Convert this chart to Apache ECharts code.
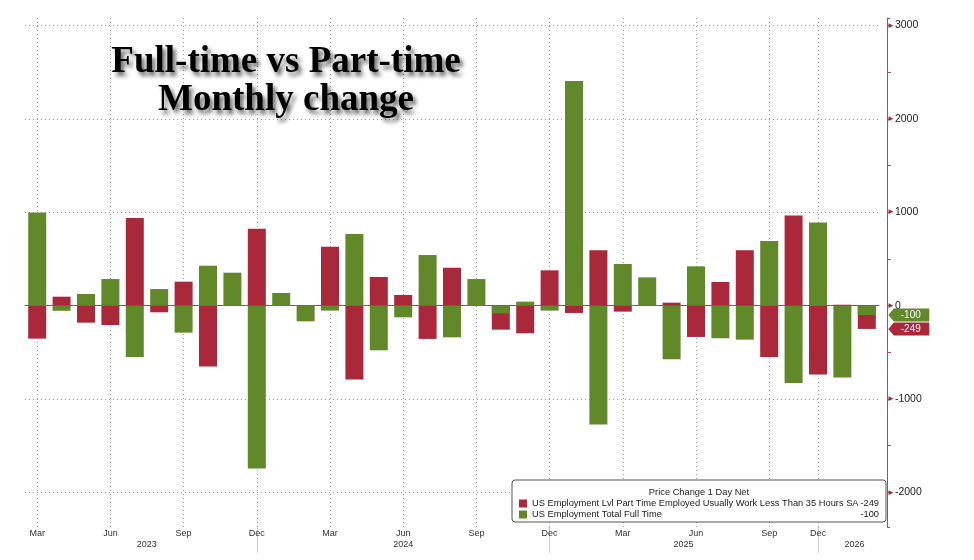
<!DOCTYPE html>
<html>
<head>
<meta charset="utf-8">
<title>Full-time vs Part-time</title>
<script src="https://cdn.jsdelivr.net/npm/echarts@6.0.0/dist/echarts.min.js"></script>
<style>
  html, body { margin: 0; padding: 0; background: #fff; }
  #chart { width: 974px; height: 560px; }
</style>
</head>
<body>
<div id="chart"></div>
<script>
// month of each print on the axis (no October 2025 household survey)
var months = [
  '2023-03', '2023-04', '2023-05', '2023-06', '2023-07', '2023-08', '2023-09', '2023-10', '2023-11', '2023-12',
  '2024-01', '2024-02', '2024-03', '2024-04', '2024-05', '2024-06', '2024-07', '2024-08', '2024-09', '2024-10', '2024-11', '2024-12',
  '2025-01', '2025-02', '2025-03', '2025-04', '2025-05', '2025-06', '2025-07', '2025-08', '2025-09', '2025-11', '2025-12',
  '2026-01', '2026-02'
]
var partTime = [-353, 96, -182, -207, 938, -71, 257, -652, 0, 824, 0, 0, 631, -791, 307, 114, -356, 406, 0, -257, -296, 378, -78, 592, -64, 0, 32, -335, 253, 592, -549, 966, -738, 10, -249]
var fullTime = [998, -55, 125, 285, -549, 178, -289, 428, 353, -1743, 136, -168, -53, 767, -478, -125, 542, -339, 285, -82, 43, -53, 2406, -1273, 446, 303, -574, 421, -349, -364, 691, -827, 891, -770, -100]
var monthNames = ['Jan', 'Feb', 'Mar', 'Apr', 'May', 'Jun', 'Jul', 'Aug', 'Sep', 'Oct', 'Nov', 'Dec']
var partName = 'US Employment Lvl Part Time Employed Usually Work Less Than 35 Hours SA'
var fullName = 'US Employment Total Full Time'

var red = '#a9283a'
var green = '#61892a'
var axisRed = '#b4475a'
var font = 'Liberation Sans'

function monthOf (v) { return parseInt(v.split('-')[1], 10) }
function isQuarter (i, v) { return monthOf(v) % 3 === 0 }
function isDec (i, v) { return monthOf(v) === 12 }

// year labels sit halfway between the Dec dividers
var bounds = [0]
months.forEach(function (m, i) { if (monthOf(m) === 12) bounds.push(i) })
bounds.push(months.length)
var yearMarks = {}
for (var k = 0; k < bounds.length - 1; k++) {
  var mid = (bounds[k] + bounds[k + 1]) / 2
  yearMarks[Math.floor(mid)] = {
    text: months[Math.ceil(mid)].split('-')[0],
    half: mid % 1 !== 0
  }
}

function lastOf (arr) { return arr[arr.length - 1] }

function tag (color, value) {
  return {
    symbol: 'path://M0,6 L6,0 L44,0 L44,12 L6,12 Z',
    symbolSize: [41, 13],
    symbolKeepAspect: false,
    symbolOffset: [42, 0],
    itemStyle: { color: color },
    label: { show: true, color: '#fff', fontSize: 10, fontFamily: font, formatter: '{c}', offset: [2, 0] },
    data: [{ coord: [months[months.length - 1], value], value: value }]
  }
}

var gridLine = { type: [1, 3], color: '#a0a0a0' }

var myChart = echarts.init(document.getElementById('chart'))
myChart.setOption({
  animation: false,
  backgroundColor: '#fff',
  grid: { left: 25, right: 95, top: 18, bottom: 33 },
  legend: {
    data: [partName, fullName],
    orient: 'vertical',
    left: 512,
    top: 480,
    icon: 'rect',
    itemWidth: 8,
    itemHeight: 8,
    itemGap: 2,
    padding: [19, 7, 3, 7],
    backgroundColor: '#fff',
    borderColor: '#555',
    borderWidth: 1,
    borderRadius: 3,
    selectedMode: false,
    formatter: function (name) {
      var v = name === partName ? lastOf(partTime) : lastOf(fullTime)
      return '{n|' + name + '}{v|' + v + '}'
    },
    textStyle: {
      fontFamily: font,
      fontSize: 9.3,
      color: '#222',
      rich: {
        n: { width: 327, fontSize: 9.3, lineHeight: 12, fontFamily: font, color: '#222' },
        v: { width: 20, align: 'right', fontSize: 9.3, lineHeight: 12, fontFamily: font, color: '#222' }
      }
    }
  },
  graphic: [
    {
      type: 'text',
      x: 286,
      y: 43,
      z: 10,
      style: {
        text: 'Full-time vs Part-time\nMonthly change',
        font: 'bold 37px "Liberation Serif"',
        fill: '#000',
        textAlign: 'center',
        textVerticalAlign: 'top',
        lineHeight: 38,
        textShadowColor: 'rgba(0,0,0,0.6)',
        textShadowBlur: 4,
        textShadowOffsetX: 3,
        textShadowOffsetY: 4
      }
    },
    {
      type: 'text',
      x: 699,
      y: 488,
      z: 100,
      style: {
        text: 'Price Change 1 Day Net',
        font: '9.3px "Liberation Sans"',
        fill: '#222',
        textAlign: 'center',
        textVerticalAlign: 'top'
      }
    }
  ],
  xAxis: [
    {
      type: 'category',
      data: months,
      axisLine: { lineStyle: { color: '#666' } },
      axisTick: { alignWithLabel: true, interval: 0, length: 3, lineStyle: { color: '#555' } },
      axisLabel: {
        interval: isQuarter,
        formatter: function (v) { return monthNames[monthOf(v) - 1] },
        margin: 2,
        fontSize: 9,
        fontFamily: font,
        color: '#333'
      },
      splitLine: {
        show: true,
        alignWithLabel: true,
        interval: isQuarter,
        lineStyle: gridLine
      }
    },
    {
      type: 'category',
      data: months,
      position: 'bottom',
      axisLine: { show: false },
      axisTick: { show: true, alignWithLabel: true, interval: isDec, length: 26, lineStyle: { color: '#ccc' } },
      axisLabel: {
        interval: function (i) { return yearMarks[i] !== undefined },
        formatter: function (v, i) {
          var m = yearMarks[i]
          if (!m) return ''
          return m.half ? '{h|' + m.text + '}' : m.text
        },
        margin: 13,
        fontSize: 9,
        fontFamily: font,
        color: '#333',
        rich: {
          h: { padding: [0, 0, 0, 24], fontSize: 9, fontFamily: font, color: '#333' }
        }
      },
      splitLine: { show: false }
    }
  ],
  yAxis: {
    type: 'value',
    position: 'right',
    offset: 8,
    min: -2370,
    max: 3080,
    axisLine: { show: true, lineStyle: { color: axisRed } },
    axisTick: { show: true, length: 3, lineStyle: { color: axisRed } },
    minorTick: { show: true, splitNumber: 2, length: 4, lineStyle: { color: axisRed } },
    axisLabel: {
      showMinLabel: false,
      showMaxLabel: false,
      margin: 0,
      fontSize: 10.5,
      fontFamily: font,
      color: '#222',
      formatter: function (v) { return '{a|\u25BA}' + v },
      rich: { a: { color: red, fontSize: 8 } }
    },
    splitLine: {
      show: true,
      showMinLine: false,
      showMaxLine: false,
      lineStyle: gridLine
    }
  },
  series: [
    {
      name: partName,
      type: 'bar',
      xAxisIndex: 0,
      data: partTime,
      barWidth: 18,
      barGap: '-100%',
      itemStyle: { color: red },
      markPoint: tag(red, lastOf(partTime))
    },
    {
      name: fullName,
      type: 'bar',
      xAxisIndex: 0,
      data: fullTime,
      barWidth: 18,
      barGap: '-100%',
      itemStyle: { color: green },
      markPoint: tag(green, lastOf(fullTime))
    }
  ]
})
window.addEventListener('resize', function () {
  myChart.resize()
})
</script>
</body>
</html>
